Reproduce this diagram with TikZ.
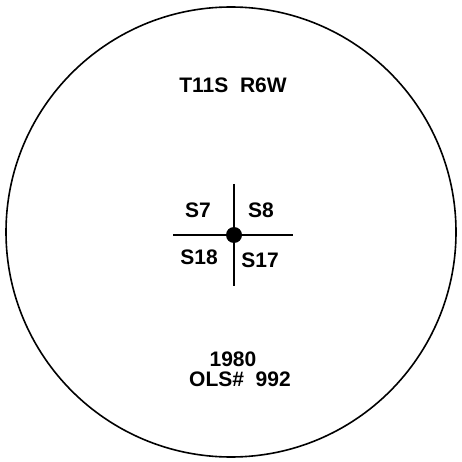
\documentclass[tikz,border=0pt]{standalone}
\usepackage{fontspec}
\setmainfont{Liberation Sans}

\begin{document}
\begin{tikzpicture}[x=1pt, y=-1pt, every node/.style={font=\fontsize{21}{24}\selectfont\bfseries}]
    \useasboundingbox (0,0) rectangle (461,462);
    \node[draw, circle, line width=1.6pt, minimum size=450pt, inner sep=0pt] (rim) at (231,232) {};
    \node (twp) at (233,85) {T11S\ \ R6W};
    \coordinate (ctr) at (234,235);
    \coordinate (west) at (173,235);
    \coordinate (east) at (293,235);
    \coordinate (north) at (234,184);
    \coordinate (south) at (234,286);
    \draw[line width=1.6pt] (west) -- (east);
    \draw[line width=1.6pt] (north) -- (south);
    \fill (ctr) circle (8);
    \node (s7) at (198,210) {S7};
    \node (s8) at (261,210) {S8};
    \node (s18) at (199,257) {S18};
    \node (s17) at (260,260) {S17};
    \node (yr) at (233,359) {1980};
    \node (ols) at (240,379) {OLS\#\ \ 992};
\end{tikzpicture}
\end{document}
